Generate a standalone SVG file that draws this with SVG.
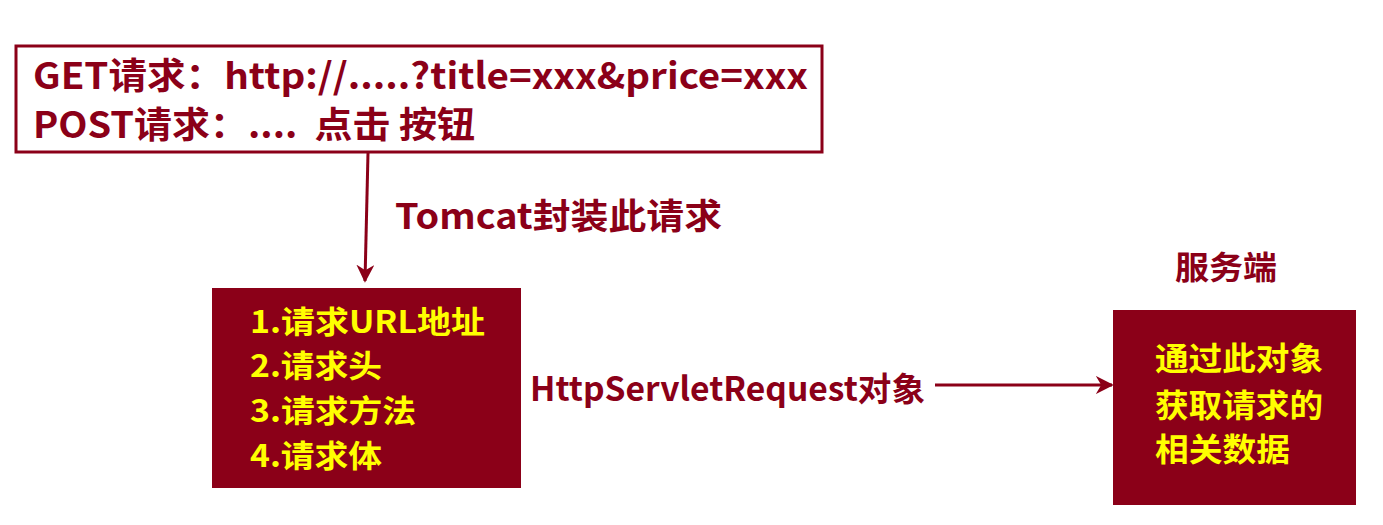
<svg xmlns="http://www.w3.org/2000/svg" width="1383" height="525" viewBox="0 0 1383 525">
<defs>
<style>
text{font-family:"Noto Sans CJK SC","Microsoft YaHei",sans-serif;font-weight:bold}
.red{fill:#8B0018}
.yl{fill:#FFFF00}
.ln{stroke:#8B0018;stroke-width:3;fill:none}
</style>
<marker id="ah" viewBox="0 0 10 10" refX="9" refY="5" markerWidth="6" markerHeight="6" orient="auto" markerUnits="strokeWidth">
<path d="M0,0 L10,5 L0,10 L3,5 Z" fill="#8B0018"/>
</marker>
</defs>
<rect width="1383" height="525" fill="#fff"/>
<g id="request">
<rect x="16" y="46" width="806" height="106" fill="#fff" stroke="#8B0018" stroke-width="3"/>
<text x="33" y="89" font-size="36" class="red" textLength="775" lengthAdjust="spacingAndGlyphs">GET请求：http://.....?title=xxx&amp;price=xxx</text>
<text x="33" y="138" font-size="36" class="red" textLength="442" lengthAdjust="spacingAndGlyphs" xml:space="preserve">POST请求：....  点击 按钮</text>
</g>
<g id="request-object">
<rect x="212" y="288" width="309" height="200" fill="#8B0018"/>
<text x="250" y="333" font-size="31" class="yl" textLength="235" lengthAdjust="spacingAndGlyphs">1.请求URL地址</text>
<text x="250" y="377" font-size="31" class="yl" textLength="132" lengthAdjust="spacingAndGlyphs">2.请求头</text>
<text x="250" y="422" font-size="31" class="yl" textLength="166" lengthAdjust="spacingAndGlyphs">3.请求方法</text>
<text x="250" y="467" font-size="31" class="yl" textLength="132" lengthAdjust="spacingAndGlyphs">4.请求体</text>
</g>
<g id="server">
<text x="1175" y="279" font-size="32" class="red" textLength="102" lengthAdjust="spacingAndGlyphs">服务端</text>
<rect x="1113" y="310" width="243" height="195" fill="#8B0018"/>
<text x="1155" y="370" font-size="32" class="yl" textLength="168" lengthAdjust="spacingAndGlyphs">通过此对象</text>
<text x="1155" y="417" font-size="32" class="yl" textLength="168" lengthAdjust="spacingAndGlyphs">获取请求的</text>
<text x="1155" y="461" font-size="32" class="yl" textLength="135" lengthAdjust="spacingAndGlyphs">相关数据</text>
</g>
<g id="connectors">
<line x1="368" y1="153" x2="365" y2="281" class="ln" marker-end="url(#ah)"/>
<text x="395" y="229" font-size="35" class="red" textLength="327" lengthAdjust="spacingAndGlyphs">Tomcat封装此请求</text>
<line x1="935" y1="385" x2="1112" y2="385" class="ln" marker-end="url(#ah)"/>
<text x="530" y="401" font-size="33" class="red" textLength="395" lengthAdjust="spacingAndGlyphs">HttpServletRequest对象</text>
</g>
</svg>
